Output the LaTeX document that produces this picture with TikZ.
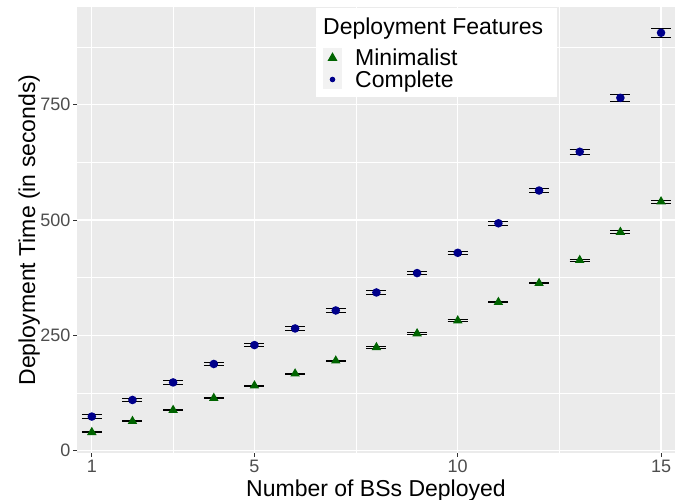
\documentclass[tikz,border=0pt]{standalone}
\usepackage{fontspec}
\setmainfont{Liberation Sans}
\usetikzlibrary{shapes.geometric}
\definecolor{panelbg}{HTML}{EBEBEB}
\definecolor{keybg}{HTML}{F2F2F2}
\definecolor{ticktext}{HTML}{4D4D4D}
\definecolor{tickline}{HTML}{333333}
\definecolor{mingreen}{RGB}{0,100,0}
\definecolor{compblue}{RGB}{0,0,139}
\begin{document}
\begin{tikzpicture}[x=1pt,y=1pt,
  majorgrid/.style={white,line width=1.2pt},
  minorgrid/.style={white,line width=0.6pt},
  tickmark/.style={tickline,line width=0.9pt},
  ticklab/.style={text=ticktext,inner sep=0pt,font=\fontsize{18}{21}\selectfont},
  titlelab/.style={text=black,inner sep=0pt,font=\fontsize{23}{27}\selectfont},
  errbar/.style={black,line width=0.9pt},
  tri/.style={regular polygon,regular polygon sides=3,fill=mingreen,inner sep=0pt,minimum size=11pt,draw=none},
  dot/.style={circle,fill=compblue,inner sep=0pt,minimum size=8.6pt,draw=none},
  keybox/.style={fill=keybg,draw=none}]
\useasboundingbox (0,0) rectangle (693,499);
% panel
\fill[panelbg] (77,46) rectangle (675,492);
\begin{scope}
\clip (77,46) rectangle (675,492);
\begin{scope}[shift={(51.14pt,48.3pt)},x=40.66pt,y=0.4613pt]
  \foreach \v in {125,375,625,875} \draw[minorgrid] (0,\v) -- (16,\v);
  \foreach \n in {3,7.5,12.5} \draw[minorgrid] (\n,-10) -- (\n,1000);
  \foreach \v in {0,250,500,750} \draw[majorgrid] (0,\v) -- (16,\v);
  \foreach \n in {1,5,10,15} \draw[majorgrid] (\n,-10) -- (\n,1000);
\end{scope}
\end{scope}
\begin{scope}[shift={(51.14pt,48.3pt)},x=40.66pt,y=0.4613pt]
  % axis ticks and labels
  \foreach \v in {0,250,500,750} {
    \draw[tickmark] (0.636,\v) -- ++(-4pt,0);
    \node[ticklab,anchor=east,xshift=-6.3pt] (yl\v) at (0.636,\v) {\v};
  }
  \foreach \n in {1,5,10,15} {
    \draw[tickmark] (\n,-4.99) -- ++(0,-4pt);
    \node[ticklab,anchor=base,yshift=-19.7pt] (xl\n) at (\n,-4.99) {\n};
  }
  % error bars: complete
  \foreach \n/\v/\e in {1/74/4,2/110/4,3/148/4,4/188/4,5/229/4,6/265/4,7/304/4,8/343/4,9/385/4,10/429/4,11/493/4,12/564/4,13/648/5,14/765/7.5,15/906/9.7} {
    \draw[errbar] ({\n-0.246},{\v-\e}) -- ({\n+0.246},{\v-\e})
                  ({\n-0.246},{\v+\e}) -- ({\n+0.246},{\v+\e})
                  (\n,{\v-\e}) -- (\n,{\v+\e});
  }
  % error bars: minimalist
  \foreach \n/\v/\e in {1/40/1.5,2/64/1.5,3/88/1.5,4/114/1.5,5/141/1.5,6/167/1.5,7/195/1.5,8/224/1.5,9/254/1.5,10/282/1.5,11/322/1.5,12/363/1.5,13/413/2.5,14/474/2.5,15/540/3} {
    \draw[errbar] ({\n-0.246},{\v-\e}) -- ({\n+0.246},{\v-\e})
                  ({\n-0.246},{\v+\e}) -- ({\n+0.246},{\v+\e})
                  (\n,{\v-\e}) -- (\n,{\v+\e});
  }
  % points
  \foreach \n/\v in {1/74,2/110,3/148,4/188,5/229,6/265,7/304,8/343,9/385,10/429,11/493,12/564,13/648,14/765,15/906}
    \node[dot] (c\n) at (\n,\v) {};
  \foreach \n/\v in {1/40,2/64,3/88,4/114,5/141,6/167,7/195,8/224,9/254,10/282,11/322,12/363,13/413,14/474,15/540}
    \node[tri] (m\n) at (\n,\v) {};
\end{scope}
% axis titles
\node[titlelab,anchor=base] (xtitle) at (376,2.5) {Number of BSs Deployed};
\node[titlelab,anchor=base,rotate=90] (ytitle) at (35,269) {Deployment Time (in seconds)};
% legend
\fill[white] (316,402) rectangle (557,491);
\node[titlelab,anchor=base west] (legtitle) at (323,464) {Deployment Features};
\fill[keybox] (323,430.7) rectangle (342,451.3);
\fill[keybox] (323,409.7) rectangle (342,430.7);
\node[tri,minimum size=11.5pt] (legm) at (332.5,441) {};
\node[dot,minimum size=5.6pt] (legc) at (332.5,419.5) {};
\node[titlelab,anchor=base west] (legmlab) at (355,433) {Minimalist};
\node[titlelab,anchor=base west] (legclab) at (355,411.7) {Complete};
\end{tikzpicture}
\end{document}
